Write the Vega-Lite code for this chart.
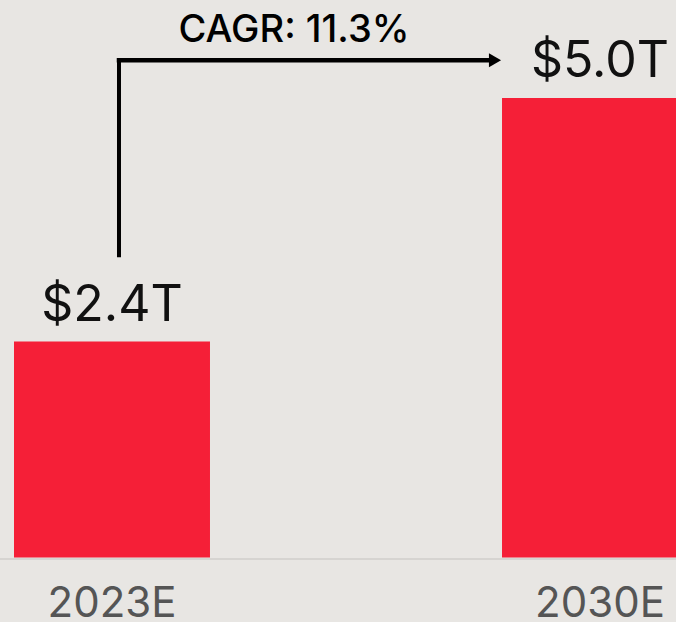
{
  "$schema": "https://vega.github.io/schema/vega-lite/v6.json",
  "width": 676,
  "height": 559,
  "autosize": "none",
  "padding": {"left": 0, "right": 0, "top": 0, "bottom": 63},
  "background": "#e8e6e3",
  "config": {"view": {"stroke": null}},
  "datasets": {
    "bars": [
      {"year": "2023E", "value": 2.35, "label": "$2.4T"},
      {"year": "2030E", "value": 5.0, "label": "$5.0T"}
    ],
    "arrow": [
      {"from": "2023E", "to": "2030E", "low": 3.29, "high": 5.41, "text": "CAGR: 11.3%", "textY": 5.61}
    ]
  },
  "layer": [
    {
      "data": {"name": "bars"},
      "mark": {"type": "bar", "color": "#f51f37"},
      "encoding": {
        "x": {
          "field": "year", "type": "ordinal", "sort": null,
          "scale": {"range": [14, 698], "paddingInner": 0.5984, "paddingOuter": 0},
          "axis": {"title": null, "domain": false, "ticks": false, "tickSize": 0, "grid": false,
            "labelAngle": 0, "labelFont": "Inter", "labelFontSize": 42, "labelColor": "#555555",
            "labelBaseline": "alphabetic", "labelPadding": 57, "labelFontWeight": 400}
        },
        "y": {"field": "value", "type": "quantitative",
          "scale": {"domain": [0, 5], "range": [557.5, 98], "nice": false, "zero": true},
          "axis": null}
      }
    },
    {
      "data": {"values": [{"base": 0}]},
      "mark": {"type": "rule", "color": "#d6d4d1", "strokeWidth": 2, "yOffset": 1.5},
      "encoding": {"y": {"field": "base", "type": "quantitative"}}
    },
    {
      "data": {"name": "bars"},
      "mark": {"type": "text", "font": "Inter", "fontSize": 50, "color": "#111111", "baseline": "alphabetic", "dy": -21},
      "encoding": {
        "x": {"field": "year", "type": "ordinal", "sort": null},
        "y": {"field": "value", "type": "quantitative"},
        "text": {"field": "label"}
      }
    },
    {
      "data": {"name": "arrow"},
      "mark": {"type": "rule", "color": "#000000", "strokeWidth": 4, "strokeCap": "square", "xOffset": 7},
      "encoding": {
        "x": {"field": "from", "type": "ordinal", "sort": null},
        "y": {"field": "low", "type": "quantitative"},
        "y2": {"field": "high"}
      }
    },
    {
      "data": {"name": "arrow"},
      "mark": {"type": "rule", "color": "#000000", "strokeWidth": 4.5, "strokeCap": "square", "xOffset": 7, "x2Offset": -11},
      "encoding": {
        "x": {"field": "from", "type": "ordinal", "sort": null},
        "x2": {"field": "to", "bandPosition": 0},
        "y": {"field": "high", "type": "quantitative"}
      }
    },
    {
      "data": {"name": "arrow"},
      "mark": {"type": "point", "shape": "triangle-right", "filled": true, "color": "#000000", "opacity": 1, "size": 196, "xOffset": -7},
      "encoding": {
        "x": {"field": "to", "type": "ordinal", "sort": null, "bandPosition": 0},
        "y": {"field": "high", "type": "quantitative"}
      }
    },
    {
      "data": {"name": "arrow"},
      "mark": {"type": "text", "font": "Inter", "fontSize": 38, "fontWeight": 500, "color": "#000000", "baseline": "alphabetic", "align": "center", "dx": 84},
      "encoding": {
        "x": {"field": "from", "type": "ordinal", "sort": null, "bandPosition": 1},
        "y": {"field": "textY", "type": "quantitative"},
        "text": {"field": "text"}
      }
    }
  ]
}
